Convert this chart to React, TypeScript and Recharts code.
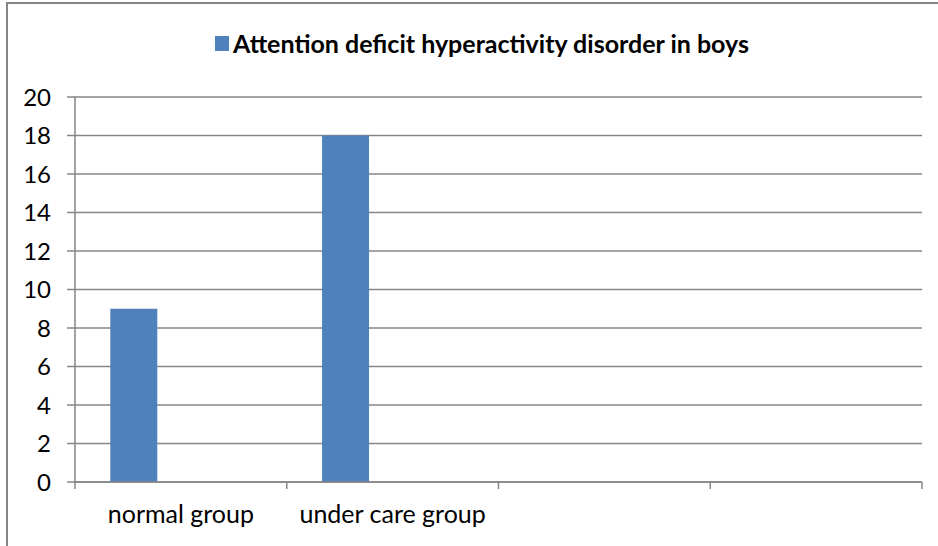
import React from "react";
import { BarChart, Bar, XAxis, YAxis, CartesianGrid, Legend } from "recharts";

const categories = ["normal group", "under care group", "", ""];
const adhdBoys = [9, 18, null, null];
const seriesB = [null, null, null, null];
const seriesC = [null, null, null, null];
const yTicks = [0, 2, 4, 6, 8, 10, 12, 14, 16, 18, 20];
const seriesName = "Attention deficit hyperactivity disorder in boys";

const data = categories.map((c, i) => ({
  name: c,
  a: adhdBoys[i],
  b: seriesB[i],
  c: seriesC[i],
}));

const BLUE = "#4F81BD";
const GRAY = "#868686";
const FONT = "Lato, 'Open Sans', sans-serif";
const X_TICK_MARGIN = 23;
const X_TICK_LEN = 7;

const LegendContent = () => (
  <div
    style={{
      height: 24,
      display: "flex",
      alignItems: "center",
      justifyContent: "center",
      fontFamily: FONT,
      fontWeight: 700,
      fontSize: 25,
      color: "#000",
      paddingLeft: 26,
    }}
  >
    <span
      style={{
        display: "inline-block",
        width: 14,
        height: 15,
        background: BLUE,
        marginRight: 4,
      }}
    />
    <span>{seriesName}</span>
  </div>
);

const CategoryTick = (props: any) => {
  const { x, y, payload, index, visibleTicksCount } = props;
  const half = payload && typeof payload.offset === "number" ? payload.offset : 0;
  const axisY = y - X_TICK_MARGIN;
  const isLast = index === visibleTicksCount - 1;
  return (
    <g>
      {half > 0 && (
        <line
          x1={x - half}
          x2={x - half}
          y1={axisY}
          y2={axisY + X_TICK_LEN}
          stroke={GRAY}
          strokeWidth={1.5}
        />
      )}
      {half > 0 && isLast && (
        <line
          x1={x + half}
          x2={x + half}
          y1={axisY}
          y2={axisY + X_TICK_LEN}
          stroke={GRAY}
          strokeWidth={1.5}
        />
      )}
      <text
        x={x}
        y={y}
        dy="0.71em"
        textAnchor="middle"
        fill="#000"
        fontSize={25}
        fontFamily={FONT}
      >
        {payload.value}
      </text>
    </g>
  );
};

export default function App() {
  return (
    <div
      style={{
        position: "absolute",
        left: 0,
        top: 0,
        width: 938,
        height: 546,
        overflow: "hidden",
        background: "#fff",
      }}
    >
      <div
        style={{
          position: "absolute",
          left: 6,
          top: 2,
          right: 0,
          bottom: 0,
          borderLeft: `2px solid ${GRAY}`,
          borderTop: `2px solid ${GRAY}`,
          pointerEvents: "none",
        }}
      />
      <BarChart
        width={938}
        height={546}
        data={data}
        margin={{ top: 73, right: 16, bottom: 0, left: 0 }}
        barCategoryGap="16.67%"
        barGap={0}
        style={{ position: "absolute", left: 0, top: 0 }}
      >
        <CartesianGrid horizontal vertical={false} stroke={GRAY} strokeWidth={1.5} />
        <XAxis
          dataKey="name"
          axisLine={{ stroke: GRAY, strokeWidth: 1.5 }}
          tickLine={false}
          tickSize={0}
          tickMargin={X_TICK_MARGIN}
          interval={0}
          height={64}
          tick={<CategoryTick />}
        />
        <YAxis
          domain={[0, 20]}
          ticks={yTicks}
          interval={0}
          width={75}
          axisLine={{ stroke: GRAY, strokeWidth: 1.5 }}
          tickLine={{ stroke: GRAY, strokeWidth: 1.5 }}
          tickSize={8}
          tickMargin={16}
          tick={{ fill: "#000", fontSize: 24, fontFamily: FONT }}
        />
        <Legend
          verticalAlign="top"
          align="center"
          height={24}
          wrapperStyle={{ top: 31, left: 0, width: 938 }}
          content={<LegendContent />}
        />
        <Bar dataKey="a" name={seriesName} fill={BLUE} isAnimationActive={false} />
        <Bar dataKey="b" fill={BLUE} legendType="none" isAnimationActive={false} />
        <Bar dataKey="c" fill={BLUE} legendType="none" isAnimationActive={false} />
      </BarChart>
    </div>
  );
}
